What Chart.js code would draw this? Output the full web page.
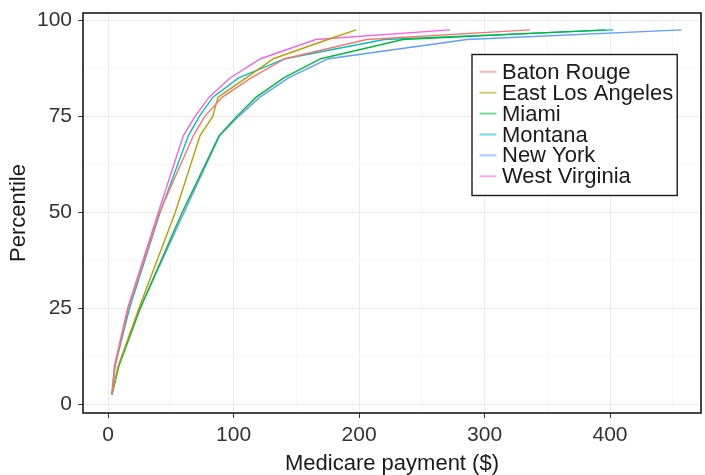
<!DOCTYPE html>
<html>
<head>
<meta charset="utf-8">
<script src="https://cdn.jsdelivr.net/npm/chart.js@4.4.0/dist/chart.umd.min.js"></script>
<style>
  html, body { margin: 0; padding: 0; background: #fff; }
</style>
</head>
<body>
<canvas id="cdfChart" width="705" height="475"></canvas>
<script>
// Percentile levels (y) and the payment reached at each level (x), per area
const percentiles = [2.5, 10, 25, 50, 70, 75, 80, 85, 90, 95, 97.5];
const batonRouge = [3, 5.5, 16, 41, 68, 77, 91, 114, 141, 206, 336];
const eastLosAngeles = [3, 8, 24.5, 53.5, 73.3, 83.4, 87.6, 110, 131.7, 175, 197.6];
const miami = [3, 8.5, 25.5, 59, 88.5, 102.5, 118, 140, 169.5, 235, 396];
const montana = [3, 5.5, 17, 41.4, 64, 72.7, 83.5, 104, 141, 220, 402.6];
const newYork = [3, 8.5, 25.5, 60.5, 89, 104, 121, 143.7, 175.5, 286, 457];
const westVirginia = [3, 5, 15.5, 40, 60, 69.3, 80.5, 97.2, 121.5, 165.5, 272.5];

const seriesNames = ['Baton Rouge', 'East Los Angeles', 'Miami', 'Montana', 'New York', 'West Virginia'];
const seriesValues = [batonRouge, eastLosAngeles, miami, montana, newYork, westVirginia];
const seriesColors = ['#F8766D', '#B79F00', '#00BA38', '#00BFC4', '#619CFF', '#F564E3'];

// Tick positions: majors get a label, minors only a grid line
const xTicks = [0, 50, 100, 150, 200, 250, 300, 350, 400, 450];
const xMajor = [0, 100, 200, 300, 400];
const yTicks = [0, 12.5, 25, 37.5, 50, 62.5, 75, 87.5, 100];
const yMajor = [0, 25, 50, 75, 100];

const FONT = "'Liberation Sans', Arial, sans-serif";

const datasets = seriesNames.map((name, i) => ({
  label: name,
  data: seriesValues[i].map((v, j) => ({ x: v, y: percentiles[j] })),
  borderColor: seriesColors[i],
  backgroundColor: seriesColors[i],
  borderWidth: 1.4,
  pointRadius: 0,
  tension: 0,
  fill: false
}));

function gridStyle(majors) {
  return {
    color: ctx => majors.includes(ctx.tick.value) ? '#EBEBEB' : '#F4F4F4',
    lineWidth: ctx => majors.includes(ctx.tick.value) ? 1 : 0.7,
    tickColor: ctx => majors.includes(ctx.tick.value) ? '#333' : 'rgba(0,0,0,0)',
    tickLength: 5,
    drawTicks: true
  };
}

// panel box and legend drawn on top
const panelAndLegend = {
  id: 'panelAndLegend',
  afterDraw(chart) {
    const ctx = chart.ctx;
    const a = chart.chartArea;
    ctx.save();
    ctx.strokeStyle = '#1a1a1a';
    ctx.lineWidth = 1.6;
    ctx.strokeRect(a.left, a.top, a.right - a.left, a.bottom - a.top);

    // legend box
    ctx.font = '22px ' + FONT;
    let maxW = 0;
    seriesNames.forEach(n => { maxW = Math.max(maxW, ctx.measureText(n).width); });
    const bx = a.right - 229, by = a.top + 41.5;
    const rowH = 20.9;
    const bw = 30 + maxW + 4, bh = 141;
    ctx.fillStyle = '#fff';
    ctx.fillRect(bx, by, bw, bh);
    ctx.strokeStyle = '#1a1a1a';
    ctx.lineWidth = 1.4;
    ctx.strokeRect(bx, by, bw, bh);
    seriesNames.forEach((n, i) => {
      const cy = by + 17.3 + i * rowH;
      ctx.globalAlpha = 0.55;
      ctx.strokeStyle = seriesColors[i];
      ctx.lineWidth = 2;
      ctx.beginPath();
      ctx.moveTo(bx + 7.5, cy);
      ctx.lineTo(bx + 24.5, cy);
      ctx.stroke();
      ctx.globalAlpha = 1;
      ctx.fillStyle = '#1a1a1a';
      ctx.textBaseline = 'middle';
      ctx.textAlign = 'left';
      ctx.fillText(n, bx + 30, cy + 1);
    });
    ctx.restore();
  }
};

const config = {
  type: 'line',
  data: { datasets: datasets },
  options: {
    responsive: false,
    animation: false,
    layout: { padding: { top: 13, right: 4, bottom: 0, left: 0 } },
    plugins: {
      legend: { display: false },
      tooltip: { enabled: false }
    },
    scales: {
      x: {
        type: 'linear',
        min: -20,
        max: 472.5,
        afterBuildTicks: s => { s.ticks = xTicks.map(v => ({ value: v })); },
        afterFit: s => { s.height = 62; s.paddingLeft = 0; s.paddingRight = 0; },
        border: { display: false },
        grid: gridStyle(xMajor),
        ticks: {
          autoSkip: false,
          maxRotation: 0,
          padding: 5,
          color: '#333',
          font: { family: FONT, size: 21 },
          callback: v => xMajor.includes(v) ? String(v) : ''
        },
        title: {
          display: true,
          text: 'Medicare payment ($)',
          color: '#1a1a1a',
          font: { family: FONT, size: 22 },
          padding: { top: 0, bottom: -2 }
        }
      },
      y: {
        type: 'linear',
        min: -2.2,
        max: 101.9,
        afterBuildTicks: s => { s.ticks = yTicks.map(v => ({ value: v })); },
        afterFit: s => { s.width = 83; s.paddingTop = 0; s.paddingBottom = 0; },
        border: { display: false },
        grid: gridStyle(yMajor),
        ticks: {
          autoSkip: false,
          padding: 6,
          color: '#333',
          font: { family: FONT, size: 21 },
          callback: v => yMajor.includes(v) ? String(v) : ''
        },
        title: {
          display: true,
          text: 'Percentile',
          color: '#1a1a1a',
          font: { family: FONT, size: 22 },
          padding: { top: 6, bottom: 0 }
        }
      }
    }
  },
  plugins: [panelAndLegend]
};

const ctx = document.getElementById('cdfChart').getContext('2d');
new Chart(ctx, config);
</script>
</body>
</html>
